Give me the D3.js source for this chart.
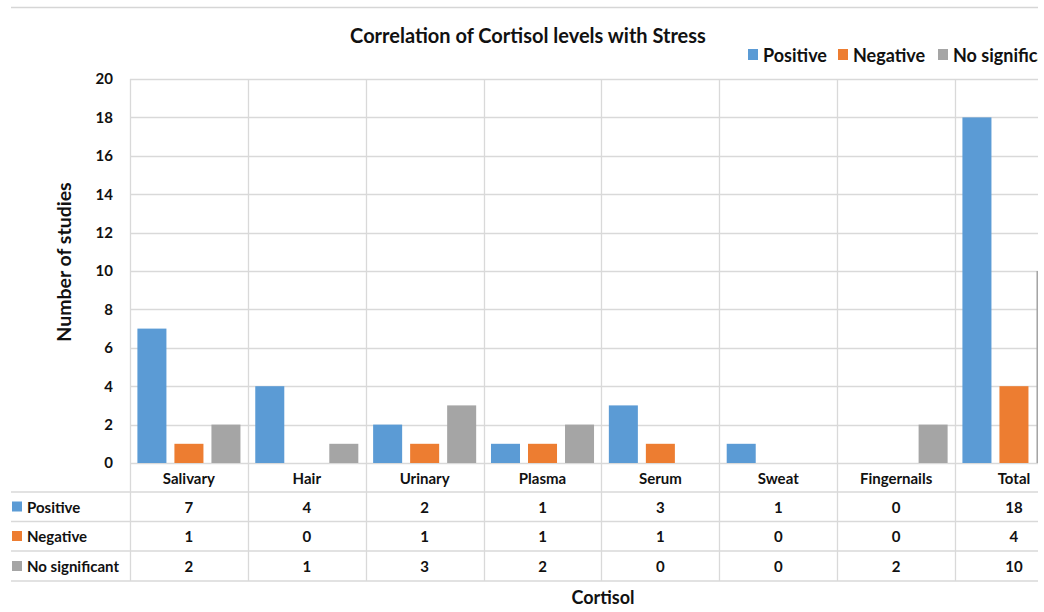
<!DOCTYPE html>
<html>
<head>
<meta charset="utf-8">
<script src="https://cdn.jsdelivr.net/npm/d3@7"></script>
<style>
  html, body { margin: 0; padding: 0; background: #fff; }
  svg { display: block; font-family: Lato, "Open Sans", sans-serif; }
</style>
</head>
<body>
<svg id="chart" width="1044" height="612"></svg>
<script>
// Study counts by cortisol sample type
const categories = ["Salivary", "Hair", "Urinary", "Plasma", "Serum", "Sweat", "Fingernails", "Total"];
const seriesNames = ["Positive", "Negative", "No significant"];
const positive = [7, 4, 2, 1, 3, 1, 0, 18];
const negative = [1, 0, 1, 1, 1, 0, 0, 4];
const noSignificant = [2, 1, 3, 2, 0, 0, 2, 10];
const yTicks = [0, 2, 4, 6, 8, 10, 12, 14, 16, 18, 20];
const colors = ["#5b9bd5", "#ed7d31", "#a5a5a5"];

const seriesValues = [positive, negative, noSignificant];

const svg = d3.select("#chart");
const gridColor = "#d9d9d9";
const ink = "#111";

// visible region of the chart
svg.append("defs").append("clipPath").attr("id", "frame")
  .append("rect").attr("x", 0).attr("y", 0).attr("width", 1038).attr("height", 612);

const root = svg.append("g").attr("clip-path", "url(#frame)");

const plot = { left: 130, top: 79, bottom: 463 };
const bandW = 117.86;
const tableLeft = 11;
const rowLines = [492, 521.5, 551, 581];

const x = d3.scaleBand().domain(categories)
  .range([plot.left, plot.left + bandW * categories.length])
  .paddingInner(0).paddingOuter(0);
const xs = d3.scaleBand().domain(seriesNames)
  .range([0, x.bandwidth()]).paddingInner(0.216).paddingOuter(0.2);
const y = d3.scaleLinear().domain([0, 20]).range([plot.bottom, plot.top]);
const right = x.range()[1];

// chart frame top border
root.append("line")
  .attr("x1", tableLeft).attr("x2", 1044).attr("y1", 7.5).attr("y2", 7.5)
  .attr("stroke", "#d6d6d6").attr("stroke-width", 1.5);

// horizontal gridlines
root.append("g").selectAll("line").data(yTicks).join("line")
  .attr("x1", plot.left).attr("x2", right)
  .attr("y1", d => Math.round(y(d)) + 0.5).attr("y2", d => Math.round(y(d)) + 0.5)
  .attr("stroke", gridColor).attr("stroke-width", 1.3);

// vertical category separators running through the data table
const seps = categories.map(c => x(c)).concat([right]);
root.append("g").selectAll("line").data(seps).join("line")
  .attr("x1", d => Math.round(d) + 0.5).attr("x2", d => Math.round(d) + 0.5)
  .attr("y1", plot.top).attr("y2", rowLines[rowLines.length - 1])
  .attr("stroke", gridColor).attr("stroke-width", 1.3);

// table row lines
root.append("g").selectAll("line").data(rowLines).join("line")
  .attr("x1", tableLeft).attr("x2", right)
  .attr("y1", d => d).attr("y2", d => d)
  .attr("stroke", gridColor).attr("stroke-width", 1.3);

// bars
const groups = root.append("g").selectAll("g").data(categories).join("g")
  .attr("transform", c => `translate(${x(c)},0)`);
groups.selectAll("rect")
  .data((c, i) => seriesNames.map((s, k) => ({ s, k, v: seriesValues[k][i] })))
  .join("rect")
  .filter(d => d.v > 0)
  .attr("x", d => xs(d.s))
  .attr("width", xs.bandwidth())
  .attr("y", d => y(d.v))
  .attr("height", d => y(0) - y(d.v))
  .attr("fill", d => colors[d.k]);

// y axis tick labels
const yAxis = d3.axisLeft(y).tickValues(yTicks).tickSize(0).tickPadding(0);
const yg = root.append("g").attr("transform", `translate(113,0)`).call(yAxis);
yg.select(".domain").remove();
yg.selectAll("text")
  .attr("font-family", "Lato, 'Open Sans', sans-serif")
  .attr("font-size", 15).attr("font-weight", "bold").attr("fill", ink);

// category labels (table header row)
root.append("g").selectAll("text").data(categories).join("text")
  .attr("x", c => x(c) + x.bandwidth() / 2).attr("y", 478)
  .attr("text-anchor", "middle").attr("dominant-baseline", "central")
  .attr("font-size", 15).attr("font-weight", "bold").attr("fill", ink)
  .text(c => c);

// data table rows
const rowMid = [506.5, 536, 566];
seriesNames.forEach((s, k) => {
  const row = root.append("g");
  row.append("rect")
    .attr("x", 12).attr("y", rowMid[k] - 5).attr("width", 10).attr("height", 10)
    .attr("fill", colors[k]);
  row.append("text")
    .attr("x", 27).attr("y", rowMid[k])
    .attr("dominant-baseline", "central")
    .attr("font-size", 15).attr("font-weight", "bold").attr("fill", ink)
    .text(s);
  row.selectAll("text.v").data(seriesValues[k]).join("text")
    .attr("class", "v")
    .attr("x", (d, i) => x(categories[i]) + x.bandwidth() / 2).attr("y", rowMid[k])
    .attr("text-anchor", "middle").attr("dominant-baseline", "central")
    .attr("font-size", 15).attr("font-weight", "bold").attr("fill", ink)
    .text(d => d);
});

// title
root.append("text")
  .attr("x", 528).attr("y", 35)
  .attr("text-anchor", "middle").attr("dominant-baseline", "central")
  .attr("font-size", 20).attr("font-weight", "bold").attr("fill", ink)
  .text("Correlation of Cortisol levels with Stress");

// legend
const legendX = [748, 838, 938];
seriesNames.forEach((s, k) => {
  root.append("rect")
    .attr("x", legendX[k]).attr("y", 49).attr("width", 10).attr("height", 11)
    .attr("fill", colors[k]);
  root.append("text")
    .attr("x", legendX[k] + 15).attr("y", 55)
    .attr("dominant-baseline", "central")
    .attr("font-size", 18).attr("font-weight", "bold").attr("fill", ink)
    .text(s);
});

// axis titles
root.append("text")
  .attr("transform", "translate(63,262) rotate(-90)")
  .attr("text-anchor", "middle").attr("dominant-baseline", "central")
  .attr("font-size", 19.5).attr("font-weight", "bold").attr("fill", ink)
  .text("Number of studies");
root.append("text")
  .attr("x", 603).attr("y", 597)
  .attr("text-anchor", "middle").attr("dominant-baseline", "central")
  .attr("font-size", 18).attr("font-weight", "bold").attr("fill", ink)
  .text("Cortisol");
</script>
</body>
</html>
